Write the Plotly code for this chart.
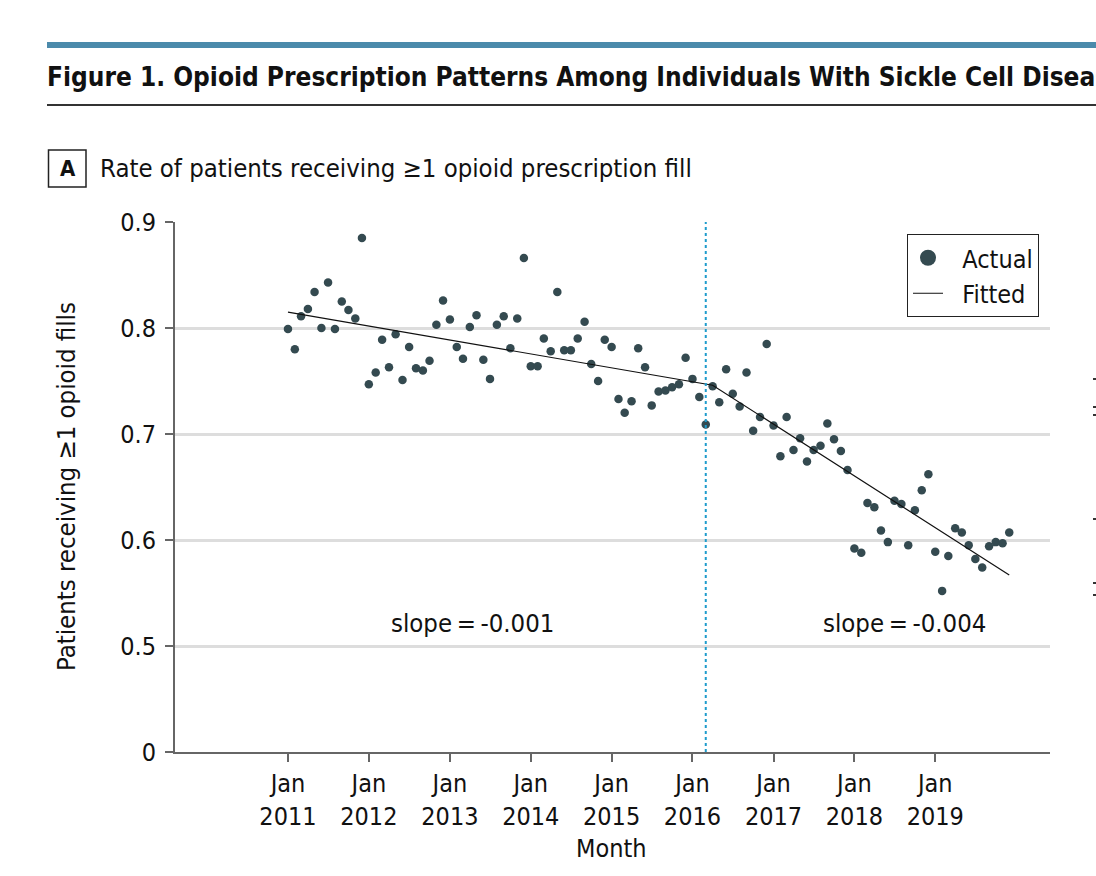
import plotly.graph_objects as go

# ---------------- data ----------------
years = list(range(2011, 2020))
months = [f"{y}-{m:02d}-01" for y in years for m in range(1, 13)]

actual = [
    # 2011
    0.799, 0.780, 0.811, 0.818, 0.834, 0.800, 0.843, 0.799, 0.825, 0.817, 0.809, 0.885,
    # 2012
    0.747, 0.758, 0.789, 0.763, 0.794, 0.751, 0.782, 0.762, 0.760, 0.769, 0.803, 0.826,
    # 2013
    0.808, 0.782, 0.771, 0.801, 0.812, 0.770, 0.752, 0.803, 0.811, 0.781, 0.809, 0.866,
    # 2014
    0.764, 0.764, 0.790, 0.778, 0.834, 0.779, 0.779, 0.790, 0.806, 0.766, 0.750, 0.789,
    # 2015
    0.782, 0.733, 0.720, 0.731, 0.781, 0.763, 0.727, 0.740, 0.741, 0.744, 0.747, 0.772,
    # 2016
    0.752, 0.735, 0.709, 0.745, 0.730, 0.761, 0.738, 0.726, 0.758, 0.703, 0.716, 0.785,
    # 2017
    0.708, 0.679, 0.716, 0.685, 0.696, 0.674, 0.685, 0.689, 0.710, 0.695, 0.684, 0.666,
    # 2018
    0.592, 0.588, 0.635, 0.631, 0.609, 0.598, 0.637, 0.634, 0.595, 0.628, 0.647, 0.662,
    # 2019
    0.589, 0.552, 0.585, 0.611, 0.607, 0.595, 0.582, 0.574, 0.594, 0.598, 0.597, 0.607,
]

fitted_dates = ["2011-01-01", "2016-04-01", "2019-12-01"]
fitted_values = [0.815, 0.746, 0.567]

intervention_date = "2016-03-01"

xtick_vals = [f"{y}-01-01" for y in years]
xtick_text = [f"Jan<br>{y}" for y in years]

ytick_vals = [0.4, 0.5, 0.6, 0.7, 0.8, 0.9]
ytick_text = ["0", "0.5", "0.6", "0.7", "0.8", "0.9"]

slope_labels = ["slope\u2009=\u2009-0.001", "slope\u2009=\u2009-0.004"]
slope_x = ["2013-04-11", "2018-08-14"]
slope_y = 0.522

FONT = "DejaVu Sans Condensed, Liberation Sans Narrow, Arial Narrow, sans-serif"
MARKER = "#344a50"
TXT = "#111111"
FS = 25

# ---------------- layout helpers ----------------
W, H = 1096, 876
L, R, T, B = 175, 46, 222, 124
PW, PH = W - L - R, H - T - B


def pxx(x):
    return (x - L) / PW


def pxy(y):
    return (T + PH - y) / PH


fig = go.Figure()

fig.add_trace(go.Scatter(
    x=months, y=actual, mode="markers", name="Actual", showlegend=False,
    marker=dict(color=MARKER, size=8.5, line=dict(width=0)),
))
fig.add_trace(go.Scatter(
    x=fitted_dates, y=fitted_values, mode="lines", name="Fitted", showlegend=False,
    line=dict(color=TXT, width=1.2),
))
# legend-only entries (larger legend symbol, thin legend line)
fig.add_trace(go.Scatter(
    x=[None], y=[None], mode="markers", name="\u00a0\u00a0Actual",
    marker=dict(color=MARKER, size=16, line=dict(width=0)),
))
fig.add_trace(go.Scatter(
    x=[None], y=[None], mode="lines", name="\u00a0\u00a0Fitted",
    line=dict(color=TXT, width=1),
))

shapes = [
    # vertical dotted intervention line
    dict(type="line", xref="x", yref="paper", x0=intervention_date, x1=intervention_date,
         y0=0, y1=1, line=dict(color="#1f9ccc", width=2, dash="dot")),
    # top blue bar
    dict(type="rect", xref="paper", yref="paper", x0=pxx(47), x1=pxx(1100),
         y0=pxy(48), y1=pxy(42), fillcolor="#4b8aab", line=dict(width=0)),
    # rule below title
    dict(type="line", xref="paper", yref="paper", x0=pxx(47), x1=pxx(1100),
         y0=pxy(105), y1=pxy(105), line=dict(color="#333333", width=2)),
    # panel letter box
    dict(type="rect", xref="paper", yref="paper", x0=pxx(48.5), x1=pxx(86),
         y0=pxy(187), y1=pxy(150), line=dict(color="#222222", width=1.5)),
]
# fragments of neighbouring panel at right edge
for yy in [379, 407, 415, 519, 583, 595]:
    shapes.append(dict(type="line", xref="paper", yref="paper", x0=pxx(1093), x1=pxx(1097),
                       y0=pxy(yy), y1=pxy(yy), line=dict(color="#333333", width=2)))

annotations = [
    dict(text="<b>Figure 1. Opioid Prescription Patterns Among Individuals With Sickle Cell Disease</b>",
         xref="paper", yref="paper", x=pxx(45), y=pxy(77), xanchor="left", yanchor="middle",
         showarrow=False, font=dict(family=FONT, size=26, color=TXT)),
    dict(text="<b>A</b>", xref="paper", yref="paper", x=pxx(67.5), y=pxy(169),
         xanchor="center", yanchor="middle", showarrow=False,
         font=dict(family=FONT, size=22, color=TXT)),
    dict(text="Rate of patients receiving \u22651 opioid prescription fill",
         xref="paper", yref="paper", x=pxx(98), y=pxy(168), xanchor="left", yanchor="middle",
         showarrow=False, font=dict(family=FONT, size=25.5, color=TXT)),
    dict(text="Patients receiving \u22651 opioid fills", xref="paper", yref="paper",
         x=pxx(66), y=pxy(487), xanchor="center", yanchor="middle", textangle=-90,
         showarrow=False, font=dict(family=FONT, size=FS + 0.5, color=TXT)),
    dict(text="Month", xref="paper", yref="paper", x=pxx(611), y=pxy(848),
         xanchor="center", yanchor="middle", showarrow=False,
         font=dict(family=FONT, size=FS, color=TXT)),
]
for txt, sx in zip(slope_labels, slope_x):
    annotations.append(dict(text=txt, x=sx, y=slope_y, xref="x", yref="y",
                            xanchor="center", yanchor="middle", showarrow=False,
                            font=dict(family=FONT, size=FS + 0.5, color=TXT)))

fig.update_layout(
    width=W, height=H,
    margin=dict(l=L, r=R, t=T, b=B, pad=0),
    paper_bgcolor="white", plot_bgcolor="white",
    font=dict(family=FONT, size=FS, color=TXT),
    showlegend=True,
    legend=dict(x=pxx(907), y=pxy(234), xanchor="left", yanchor="top",
                bordercolor="#222222", borderwidth=1, bgcolor="white",
                font=dict(family=FONT, size=FS, color=TXT),
                itemwidth=30, tracegroupgap=0),
    shapes=shapes,
    annotations=annotations,
    xaxis=dict(
        type="date", range=["2009-08-09", "2020-06-02"],
        tickvals=xtick_vals, ticktext=xtick_text,
        showgrid=False, zeroline=False,
        showline=True, linecolor="#666666", linewidth=2,
        ticks="outside", ticklen=8, tickwidth=1.5, tickcolor="#666666",
        tickfont=dict(family=FONT, size=FS, color=TXT),
    ),
    yaxis=dict(
        range=[0.4, 0.9],
        tickvals=ytick_vals, ticktext=ytick_text,
        showgrid=True, gridcolor="#dddddd", gridwidth=2.5,
        zeroline=False,
        showline=True, linecolor="#666666", linewidth=2,
        ticks="outside", ticklen=8, tickwidth=1.5, tickcolor="#666666",
        tickfont=dict(family=FONT, size=FS, color=TXT),
        ticklabelstandoff=4,
    ),
)

fig.write_html("out.html")
